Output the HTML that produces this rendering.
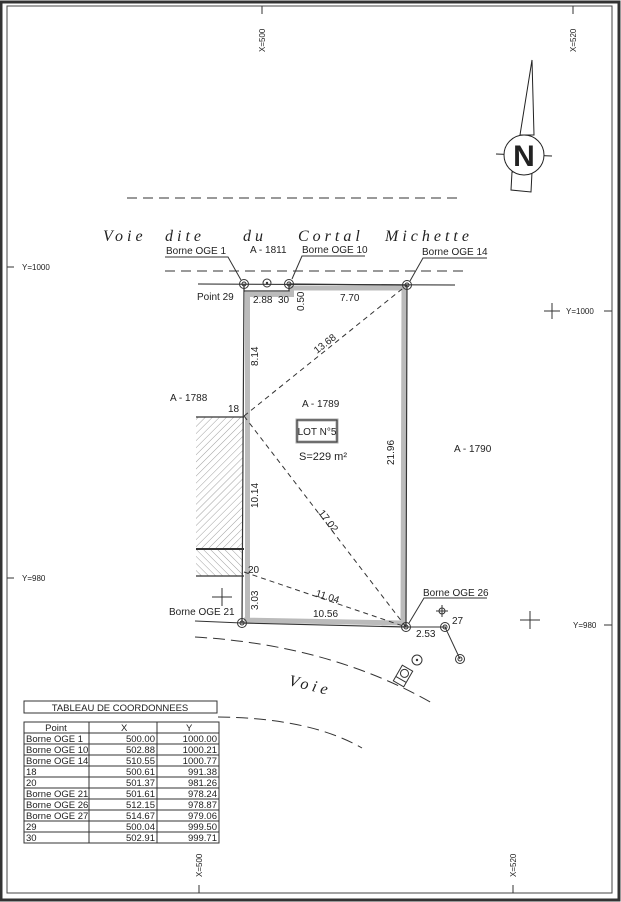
<!DOCTYPE html>
<html><head><meta charset="utf-8"><style>
html,body{margin:0;padding:0;background:#fff}
svg{display:block}
text{font-family:"Liberation Sans",sans-serif;fill:#222}
.s{font-family:"Liberation Serif",serif;font-style:italic;font-size:16px;letter-spacing:4px}
</style></head><body>
<svg width="621" height="902" viewBox="0 0 621 902" xmlns="http://www.w3.org/2000/svg">
<rect x="1" y="2" width="618" height="898" fill="none" stroke="#333" stroke-width="3"/>
<rect x="7" y="6" width="605" height="887" fill="none" stroke="#444" stroke-width="1"/>

<g stroke="#333" stroke-width="1">
<line x1="262" y1="6" x2="262" y2="14"/><line x1="573" y1="6" x2="573" y2="14"/>
<line x1="199" y1="885" x2="199" y2="893"/><line x1="513" y1="885" x2="513" y2="893"/>
<line x1="7" y1="267" x2="14" y2="267"/><line x1="7" y1="578" x2="14" y2="578"/>
<line x1="604" y1="311" x2="612" y2="311"/><line x1="604" y1="625" x2="612" y2="625"/>
<line x1="544" y1="311" x2="560" y2="311"/><line x1="552" y1="303" x2="552" y2="319"/>
<line x1="520" y1="620" x2="540" y2="620"/><line x1="530" y1="611" x2="530" y2="629"/>
<line x1="212" y1="597" x2="232" y2="597"/><line x1="222" y1="588" x2="222" y2="606"/>
</g>
<g font-size="8">
<text transform="translate(265,52) rotate(-90)">X=500</text>
<text transform="translate(576,52) rotate(-90)">X=520</text>
<text transform="translate(202,877) rotate(-90)">X=500</text>
<text transform="translate(516,877) rotate(-90)">X=520</text>
<text x="22" y="270">Y=1000</text><text x="22" y="581">Y=980</text>
<text x="566" y="314">Y=1000</text><text x="573" y="628">Y=980</text>
</g>

<polygon points="532,60 520,135 534,135" fill="#fff" stroke="#222"/>
<polygon points="512,172 532,172 531,192 511,190" fill="#fff" stroke="#222"/>
<line x1="496" y1="154" x2="552" y2="156" stroke="#222"/>
<circle cx="524" cy="155" r="20" fill="#fff" stroke="#222"/>
<text x="524" y="166" font-size="30" font-weight="bold" text-anchor="middle" fill="#222">N</text>

<line x1="127" y1="198" x2="460" y2="198" stroke="#333" stroke-dasharray="10,6"/>
<text class="s" x="103" y="241">Voie</text><text class="s" x="165" y="241">dite</text>
<text class="s" x="243" y="241">du</text><text class="s" x="298" y="241">Cortal</text>
<text class="s" x="385" y="241">Michette</text>
<line x1="165" y1="271" x2="465" y2="271" stroke="#333" stroke-dasharray="10,6"/>
<line x1="198" y1="284" x2="455" y2="285" stroke="#222"/>

<defs>
<pattern id="h1" width="5" height="5" patternUnits="userSpaceOnUse" patternTransform="rotate(45)"><line x1="0" y1="0" x2="0" y2="5" stroke="#888" stroke-width="0.8"/></pattern>
<pattern id="h2" width="5" height="5" patternUnits="userSpaceOnUse" patternTransform="rotate(-45)"><line x1="0" y1="0" x2="0" y2="5" stroke="#888" stroke-width="0.8"/></pattern>
</defs>
<rect x="196" y="417" width="47" height="132" fill="url(#h1)"/>
<rect x="196" y="549" width="47" height="27" fill="url(#h2)"/>
<g stroke="#333"><line x1="196" y1="417" x2="244" y2="417" stroke-width="1.2"/><line x1="196" y1="549" x2="244" y2="549" stroke-width="2"/><line x1="196" y1="576" x2="244" y2="576" stroke-width="1.2"/></g>

<polyline points="247.5,623 247.5,294.5 291.5,294.5 291.5,288 404,288 403,623 244,620" fill="none" stroke="#bbb" stroke-width="5"/>
<polygon points="244,284 244,291 289,291 289,284 407,285 406,627 242,623" fill="none" stroke="#333" stroke-width="1.2"/>
<line x1="242" y1="623" x2="195" y2="621" stroke="#333"/>
<line x1="406" y1="627" x2="446" y2="627" stroke="#333"/>
<g stroke="#333" stroke-dasharray="5,4">
<line x1="244" y1="416" x2="407" y2="285"/>
<line x1="244" y1="416" x2="406" y2="627"/>
<line x1="244" y1="572" x2="406" y2="627"/>
</g>
<g fill="none" stroke="#333">
<circle cx="244" cy="284" r="4.5"/><circle cx="244" cy="284" r="2"/>
<circle cx="289" cy="284" r="4.5"/><circle cx="289" cy="284" r="2"/>
<circle cx="407" cy="285" r="4.5"/><circle cx="407" cy="285" r="2"/>
<circle cx="242" cy="623" r="4.5"/><circle cx="242" cy="623" r="2"/>
<circle cx="406" cy="627" r="4.5"/><circle cx="406" cy="627" r="2"/>
<circle cx="445" cy="627" r="4.5"/><circle cx="445" cy="627" r="2"/>
<circle cx="460" cy="659" r="4.5"/><circle cx="460" cy="659" r="2"/>
<line x1="445" y1="627" x2="460" y2="659"/>
<circle cx="267" cy="283" r="4"/><circle cx="417" cy="660" r="5"/>
<circle cx="442" cy="611" r="3"/>
<line x1="442" y1="605" x2="442" y2="617"/><line x1="436" y1="611" x2="448" y2="611"/>
<g transform="translate(403,676) rotate(30)"><rect x="-6" y="-9" width="12" height="18"/><circle cx="0" cy="-3" r="4"/><line x1="-6" y1="4" x2="6" y2="4"/></g>
</g>
<circle cx="417" cy="660" r="1.2" fill="#333"/><circle cx="267" cy="283" r="1.2" fill="#333"/>

<g stroke="#333" fill="none">
<polyline points="165,257 228,257 241,280"/>
<polyline points="365,256 302,256 292,279"/>
<polyline points="487,258 423,258 410,281"/>
<polyline points="487,598 424,598 409,623"/>
</g>
<g font-size="10">
<text x="166" y="254">Borne OGE 1</text>
<text x="302" y="253">Borne OGE 10</text>
<text x="422" y="255">Borne OGE 14</text>
<text x="423" y="596">Borne OGE 26</text>
<text x="169" y="615">Borne OGE 21</text>
<text x="250" y="253">A - 1811</text>
<text x="197" y="300">Point 29</text>
<text x="253" y="303">2.88</text><text x="278" y="303">30</text>
<text transform="translate(304,311) rotate(-90)">0.50</text>
<text x="340" y="301">7.70</text>
<text transform="translate(258,366) rotate(-90)">8.14</text>
<text transform="translate(317,354) rotate(-38)">13.68</text>
<text x="170" y="401">A - 1788</text>
<text x="228" y="412">18</text>
<text x="302" y="407">A - 1789</text>
<text x="454" y="452">A - 1790</text>
<text transform="translate(394,465) rotate(-90)">21.96</text>
<text transform="translate(258,508) rotate(-90)">10.14</text>
<text transform="translate(318,513) rotate(52)">17.02</text>
<text x="248" y="573">20</text>
<text transform="translate(258,610) rotate(-90)">3.03</text>
<text transform="translate(315,596) rotate(18)">11.04</text>
<text x="313" y="617">10.56</text>
<text x="416" y="637">2.53</text>
<text x="452" y="624">27</text>
</g>
<rect x="297" y="420" width="40" height="22" fill="#fff" stroke="#aaa" stroke-width="3"/>
<rect x="297" y="420" width="40" height="22" fill="none" stroke="#333"/>
<text x="317" y="435" font-size="10" text-anchor="middle">LOT N°5</text>
<text x="299" y="460" font-size="11">S=229 m²</text>

<path d="M195,637 Q330,645 432,703" fill="none" stroke="#333" stroke-dasharray="12,6"/>
<path d="M218,717 Q310,718 362,748" fill="none" stroke="#333" stroke-dasharray="12,6"/>
<text class="s" transform="translate(288,685) rotate(14)" font-size="13">Voie</text>

<rect x="24" y="701" width="193" height="12" fill="#fff" stroke="#333"/>
<text x="120" y="711" font-size="9.5" text-anchor="middle">TABLEAU DE COORDONNEES</text>
<g stroke="#333" fill="none">
<rect x="24" y="722" width="195" height="121"/>
<line x1="89" y1="722" x2="89" y2="843"/><line x1="157" y1="722" x2="157" y2="843"/>
<line x1="24" y1="733" x2="219" y2="733"/><line x1="24" y1="744" x2="219" y2="744"/>
<line x1="24" y1="755" x2="219" y2="755"/><line x1="24" y1="766" x2="219" y2="766"/>
<line x1="24" y1="777" x2="219" y2="777"/><line x1="24" y1="788" x2="219" y2="788"/>
<line x1="24" y1="799" x2="219" y2="799"/><line x1="24" y1="810" x2="219" y2="810"/>
<line x1="24" y1="821" x2="219" y2="821"/><line x1="24" y1="832" x2="219" y2="832"/>
</g>
<g font-size="9.5">
<text x="56" y="731" text-anchor="middle">Point</text><text x="121" y="731">X</text><text x="186" y="731">Y</text>
<text x="26" y="742">Borne OGE 1</text><text x="155" y="742" text-anchor="end">500.00</text><text x="217" y="742" text-anchor="end">1000.00</text>
<text x="26" y="753">Borne OGE 10</text><text x="155" y="753" text-anchor="end">502.88</text><text x="217" y="753" text-anchor="end">1000.21</text>
<text x="26" y="764">Borne OGE 14</text><text x="155" y="764" text-anchor="end">510.55</text><text x="217" y="764" text-anchor="end">1000.77</text>
<text x="26" y="775">18</text><text x="155" y="775" text-anchor="end">500.61</text><text x="217" y="775" text-anchor="end">991.38</text>
<text x="26" y="786">20</text><text x="155" y="786" text-anchor="end">501.37</text><text x="217" y="786" text-anchor="end">981.26</text>
<text x="26" y="797">Borne OGE 21</text><text x="155" y="797" text-anchor="end">501.61</text><text x="217" y="797" text-anchor="end">978.24</text>
<text x="26" y="808">Borne OGE 26</text><text x="155" y="808" text-anchor="end">512.15</text><text x="217" y="808" text-anchor="end">978.87</text>
<text x="26" y="819">Borne OGE 27</text><text x="155" y="819" text-anchor="end">514.67</text><text x="217" y="819" text-anchor="end">979.06</text>
<text x="26" y="830">29</text><text x="155" y="830" text-anchor="end">500.04</text><text x="217" y="830" text-anchor="end">999.50</text>
<text x="26" y="841">30</text><text x="155" y="841" text-anchor="end">502.91</text><text x="217" y="841" text-anchor="end">999.71</text>
</g>
</svg>
</body></html>
